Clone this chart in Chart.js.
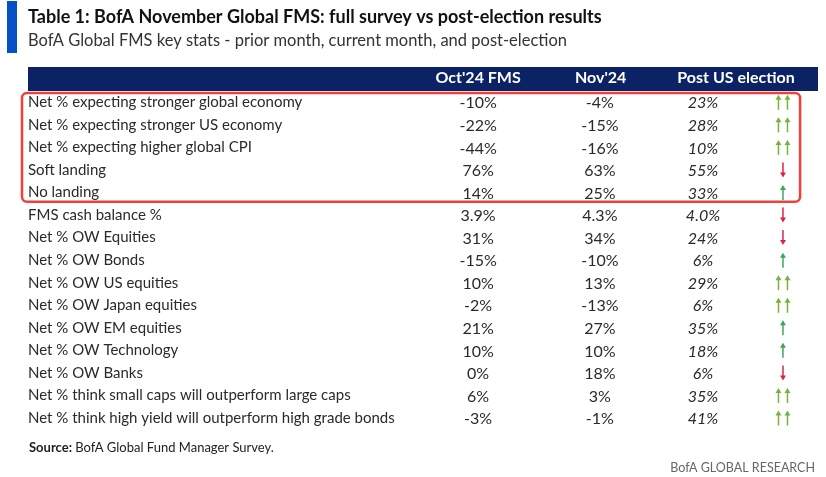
<!DOCTYPE html>
<html>
<head>
<meta charset="utf-8">
<script src="https://cdn.jsdelivr.net/npm/chart.js@4.4.1/dist/chart.umd.min.js"></script>
<style>
  html, body { margin: 0; padding: 0; background: #fff; }
  #wrap { width: 826px; height: 477px; }
</style>
</head>
<body>
<div id="wrap"><canvas id="fms"></canvas></div>
<script>
const rows = [
  "Net % expecting stronger global economy",
  "Net % expecting stronger US economy",
  "Net % expecting higher global CPI",
  "Soft landing",
  "No landing",
  "FMS cash balance %",
  "Net % OW Equities",
  "Net % OW Bonds",
  "Net % OW US equities",
  "Net % OW Japan equities",
  "Net % OW EM equities",
  "Net % OW Technology",
  "Net % OW Banks",
  "Net % think small caps will outperform large caps",
  "Net % think high yield will outperform high grade bonds"
];
const oct24 = [-10, -22, -44, 76, 14, 3.9, 31, -15, 10, -2, 21, 10, 0, 6, -3];
const nov24 = [-4, -15, -16, 63, 25, 4.3, 34, -10, 13, -13, 27, 10, 18, 3, -1];
const postElection = [23, 28, 10, 55, 33, 4.0, 24, 6, 29, 6, 35, 18, 6, 35, 41];
// 2 = double up, 1 = up, -1 = down
const direction = [2, 2, 2, -1, 1, -1, -1, 1, 2, 2, 1, 1, -1, 2, 2];
const headers = ["Oct'24 FMS", "Nov'24", "Post US election"];
const boxedRows = 5;

const FONT = "Lato, sans-serif";
const colX = [14.6, 45.2, 71.1, 91.2];   // column centres on the 0..100 x scale
const headerX = [14.6, 45.4, 79.4];

const fmt = (v, i) => (rows[i].includes("cash") ? v.toFixed(1) : String(v)) + "%";

function arrow(ctx, x, yc, up, color) {
  const top = yc - 7.5, bot = yc + 7.5;
  ctx.strokeStyle = color;
  ctx.fillStyle = color;
  ctx.lineWidth = 1.5;
  ctx.beginPath();
  ctx.moveTo(x, up ? top + 3 : top);
  ctx.lineTo(x, up ? bot : bot - 3);
  ctx.stroke();
  ctx.beginPath();
  if (up) {
    ctx.moveTo(x, top); ctx.lineTo(x - 3, top + 5); ctx.lineTo(x + 3, top + 5);
  } else {
    ctx.moveTo(x, bot); ctx.lineTo(x - 3, bot - 5); ctx.lineTo(x + 3, bot - 5);
  }
  ctx.closePath();
  ctx.fill();
}

const tablePlugin = {
  id: "tablePlugin",
  beforeDraw(chart) {
    const { ctx, scales: { x, y } } = chart;
    ctx.save();
    // header band
    ctx.fillStyle = "#0b2265";
    ctx.fillRect(y.left, x.top, x.right - y.left, x.bottom - x.top);
    // blue bar next to title
    ctx.fillStyle = "#0451c4";
    ctx.fillRect(7, 1, 10, 52);
    ctx.restore();
  },
  afterDatasetsDraw(chart) {
    const { ctx, scales: { x, y } } = chart;
    ctx.save();
    ctx.textAlign = "center";
    ctx.textBaseline = "middle";
    [oct24, nov24, postElection].forEach((vals, d) => {
      const meta = chart.getDatasetMeta(d);
      ctx.font = (d === 2 ? "italic " : "") + "16px " + FONT;
      ctx.fillStyle = "#2a2a2a";
      meta.data.forEach((pt, i) => ctx.fillText(fmt(vals[i], i), pt.x, pt.y + 1));
    });
    chart.getDatasetMeta(3).data.forEach((pt, i) => {
      const dir = direction[i];
      if (dir === 2) {
        arrow(ctx, pt.x - 4.5, pt.y, true, "#78b43c");
        arrow(ctx, pt.x + 4.5, pt.y, true, "#78b43c");
      } else if (dir === 1) {
        arrow(ctx, pt.x, pt.y, true, "#3da65e");
      } else {
        arrow(ctx, pt.x, pt.y, false, "#d8264a");
      }
    });
    // red highlight box around the first rows
    const half = (y.getPixelForValue(1) - y.getPixelForValue(0)) / 2;
    const top = y.getPixelForValue(0) - half + 2;
    const bot = y.getPixelForValue(boxedRows - 1) + half - 2;
    ctx.strokeStyle = "#f0403c";
    ctx.lineWidth = 2.5;
    ctx.beginPath();
    ctx.roundRect(y.left - 6, top, x.getPixelForValue(95.5) - y.left + 6, bot - top, 5);
    ctx.stroke();
    ctx.restore();
  },
  afterDraw(chart) {
    const { ctx } = chart;
    ctx.save();
    ctx.textBaseline = "alphabetic";
    ctx.fillStyle = "#222";
    ctx.font = "bold 13px " + FONT;
    ctx.textAlign = "left";
    ctx.fillText("Source:", 29, 452);
    const w = ctx.measureText("Source: ").width;
    ctx.font = "13px " + FONT;
    ctx.fillText("BofA Global Fund Manager Survey.", 29 + w, 452);
    ctx.fillStyle = "#666";
    ctx.font = "12.5px " + FONT;
    ctx.textAlign = "right";
    ctx.fillText("BofA GLOBAL RESEARCH", 815, 472);
    ctx.restore();
  }
};

const cellData = (col) => rows.map((r) => ({ x: colX[col], y: r }));

new Chart(document.getElementById("fms"), {
  type: "scatter",
  data: {
    datasets: [0, 1, 2, 3].map((c) => ({
      data: cellData(c),
      pointRadius: 0,
      pointHoverRadius: 0
    }))
  },
  options: {
    responsive: true,
    maintainAspectRatio: false,
    animation: false,
    events: [],
    layout: { padding: { left: 28, right: 8, top: 0, bottom: 47.7 } },
    plugins: {
      legend: { display: false },
      tooltip: { enabled: false },
      title: {
        display: true,
        text: "Table 1: BofA November Global FMS: full survey vs post-election results",
        align: "start",
        color: "#111",
        font: { family: FONT, size: 18, weight: "bold" },
        padding: { top: 6, bottom: 0 }
      },
      subtitle: {
        display: true,
        text: "BofA Global FMS key stats - prior month, current month, and post-election",
        align: "start",
        color: "#333",
        font: { family: FONT, size: 16.5 },
        padding: { top: 3.5, bottom: 16.1 }
      }
    },
    scales: {
      x: {
        type: "linear",
        position: "top",
        min: 0,
        max: 100,
        grid: { display: false, drawTicks: false },
        border: { display: false },
        afterBuildTicks: (s) => { s.ticks = headerX.map((v) => ({ value: v })); },
        afterFit: (s) => { s.height = 24; },
        ticks: {
          autoSkip: false,
          maxRotation: 0,
          padding: 4,
          color: "#fff",
          font: { family: FONT, size: 16, weight: "bold" },
          callback: (v, i) => headers[i]
        }
      },
      y: {
        type: "category",
        labels: rows,
        offset: true,
        grid: { display: false, drawTicks: false },
        border: { display: false },
        afterFit: (s) => { s.width = 392; },
        ticks: {
          autoSkip: false,
          crossAlign: "far",
          padding: 0,
          color: "#2a2a2a",
          font: { family: FONT, size: 15 }
        }
      }
    }
  },
  plugins: [tablePlugin]
});
</script>
</body>
</html>
